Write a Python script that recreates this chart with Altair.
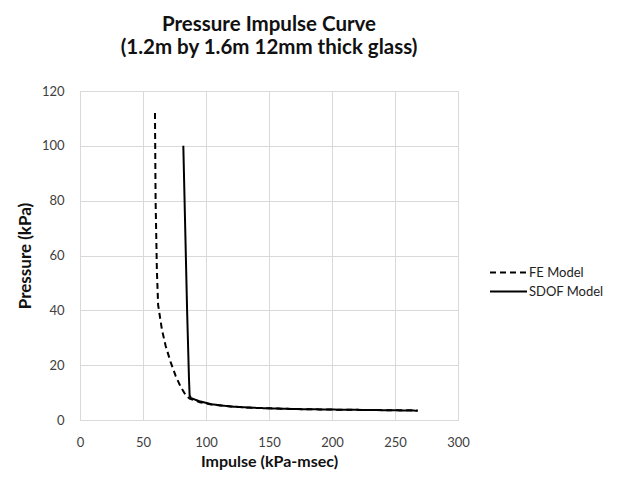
import altair as alt
import pandas as pd

fe_impulse = [59.5, 60, 61, 62, 65, 68, 72, 76, 80, 84, 87, 95, 105, 120, 140, 170, 200, 240, 268]
fe_pressure = [112, 80, 55, 42, 33, 27, 21, 16, 12, 9, 7.8, 6.5, 5.6, 4.9, 4.4, 4.0, 3.8, 3.6, 3.5]
sdof_impulse = [82, 83.5, 85, 86.5, 87, 88, 95, 105, 120, 140, 170, 200, 240, 268]
sdof_pressure = [100, 70, 40, 15, 9, 8, 6.8, 5.7, 4.9, 4.4, 4.0, 3.8, 3.6, 3.4]
series = ["FE Model", "SDOF Model"]

rows = []
for i, (x, y) in enumerate(zip(fe_impulse, fe_pressure)):
    rows.append({"Impulse": x, "Pressure": y, "Model": series[0], "order": i})
for i, (x, y) in enumerate(zip(sdof_impulse, sdof_pressure)):
    rows.append({"Impulse": x, "Pressure": y, "Model": series[1], "order": i})
df = pd.DataFrame(rows)

FONT = "Lato"

chart = alt.Chart(df).mark_line(strokeWidth=2, color="black").encode(
    x=alt.X("Impulse:Q", title="Impulse (kPa-msec)",
            scale=alt.Scale(domain=[0, 300], nice=False),
            axis=alt.Axis(values=[0, 50, 100, 150, 200, 250, 300],
                          labelPadding=16, titlePadding=4, titleFontSize=16)),
    y=alt.Y("Pressure:Q", title="Pressure (kPa)",
            scale=alt.Scale(domain=[0, 120], nice=False),
            axis=alt.Axis(values=[0, 20, 40, 60, 80, 100, 120],
                          labelPadding=16, titlePadding=7, titleFontSize=17)),
    strokeDash=alt.StrokeDash("Model:N", title=None,
                              scale=alt.Scale(domain=series, range=[[6, 4], [1, 0]]),
                              legend=alt.Legend(orient="none", legendX=409, legendY=174,
                                                symbolType="stroke", symbolSize=1369,
                                                symbolStrokeWidth=2, symbolStrokeColor="black",
                                                clipHeight=15, labelOffset=1, rowPadding=4,
                                                labelFont=FONT, labelFontSize=13,
                                                labelColor="#222222")),
    detail="Model:N",
    order="order:Q",
).properties(
    width=378, height=329,
    title=alt.TitleParams(["Pressure Impulse Curve", "(1.2m by 1.6m 12mm thick glass)"],
                          font=FONT, fontSize=20.5, fontWeight="bold", lineHeight=23,
                          anchor="middle", offset=27, color="#111111"),
    autosize=alt.AutoSizeParams(type="none"),
    padding={"left": 72, "top": 83, "right": 151, "bottom": 52},
).configure_view(
    stroke="#d9d9d9", strokeWidth=1
).configure_axis(
    grid=True, gridColor="#d9d9d9", gridWidth=1,
    domainColor="#d9d9d9", ticks=False, labelFlush=False,
    labelFont=FONT, labelFontSize=13, labelColor="#404040",
    titleFont=FONT, titleFontWeight="bold", titleColor="#111111",
)

chart.save("out.html", embed_options={"renderer": "svg", "actions": False})
